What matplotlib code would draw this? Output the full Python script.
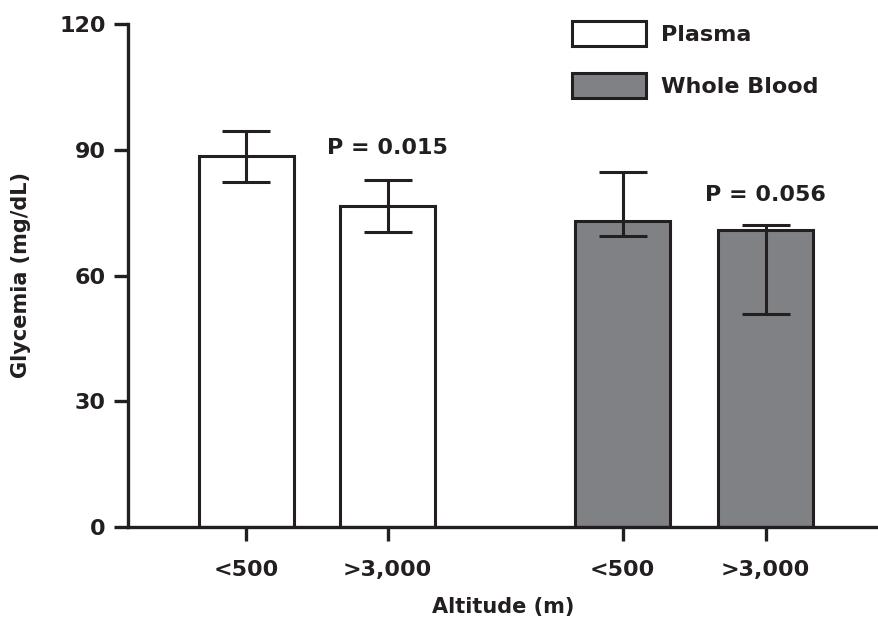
import matplotlib
matplotlib.use("Agg")
import matplotlib.pyplot as plt
from matplotlib.patches import Patch
import numpy as np

plt.rcParams['font.family'] = ['DejaVu Sans']
plt.rcParams['font.weight'] = 'bold'

categories = ["<500", ">3,000", "<500", ">3,000"]
series = ["Plasma", "Plasma", "Whole Blood", "Whole Blood"]
values = [88.6, 76.5, 73.0, 70.9]
err_low = [82.3, 70.4, 69.5, 50.9]
err_high = [94.5, 82.9, 84.8, 72.0]
p_labels = ["P = 0.015", "P = 0.056"]
colors = {"Plasma": "#ffffff", "Whole Blood": "#808184"}

positions = [0, 1, 2.66, 3.67]
ink = "#231f20"

fig = plt.figure(figsize=(8.79, 6.19), dpi=100)
ax = fig.add_axes([128/879, 92/619, (879-128)/879, 503/619])

yerr = np.array([[v - l for v, l in zip(values, err_low)],
                 [h - v for v, h in zip(values, err_high)]])
ax.bar(positions, values, width=0.67, color=[colors[s] for s in series],
       edgecolor=ink, linewidth=2.2, zorder=2)
ax.errorbar(positions, values, yerr=yerr, fmt='none', ecolor=ink,
            elinewidth=2.2, capsize=17, capthick=2.2, zorder=3)

ax.text(positions[1], err_high[1] + 7.6, p_labels[0], ha='center', va='center',
        fontsize=16, fontweight='bold', color=ink)
ax.text(positions[3], err_high[3] + 7.3, p_labels[1], ha='center', va='center',
        fontsize=16, fontweight='bold', color=ink)

ax.set_xlim(-0.834, 4.47)
ax.set_ylim(0, 120)
ax.set_yticks([0, 30, 60, 90, 120])
ax.set_xticks(positions)
ax.set_xticklabels(categories)
for s in ['top', 'right']:
    ax.spines[s].set_visible(False)
for s in ['left', 'bottom']:
    ax.spines[s].set_linewidth(2.4)
    ax.spines[s].set_color(ink)
ax.tick_params(axis='both', width=2.4, length=10, color=ink, labelcolor=ink,
               labelsize=16, pad=6)
ax.tick_params(axis='x', pad=14)
for lab in ax.get_xticklabels() + ax.get_yticklabels():
    lab.set_fontweight('bold')

ax.set_ylabel("Glycemia (mg/dL)", fontsize=15, fontweight='bold', color=ink, labelpad=20)
ax.set_xlabel("Altitude (m)", fontsize=15, fontweight='bold', color=ink, labelpad=12)

handles = [Patch(facecolor=colors["Plasma"], edgecolor=ink, linewidth=2.2),
           Patch(facecolor=colors["Whole Blood"], edgecolor=ink, linewidth=2.2)]
leg = ax.legend(handles, ["Plasma", "Whole Blood"], loc='upper left',
                bbox_to_anchor=(0.565, 1.045), frameon=False, handlelength=3.3,
                handleheight=1.35, labelspacing=1.2, handletextpad=0.7,
                prop={'size': 16, 'weight': 'bold'})
for t in leg.get_texts():
    t.set_color(ink)

fig.savefig("out.png", dpi=100)
